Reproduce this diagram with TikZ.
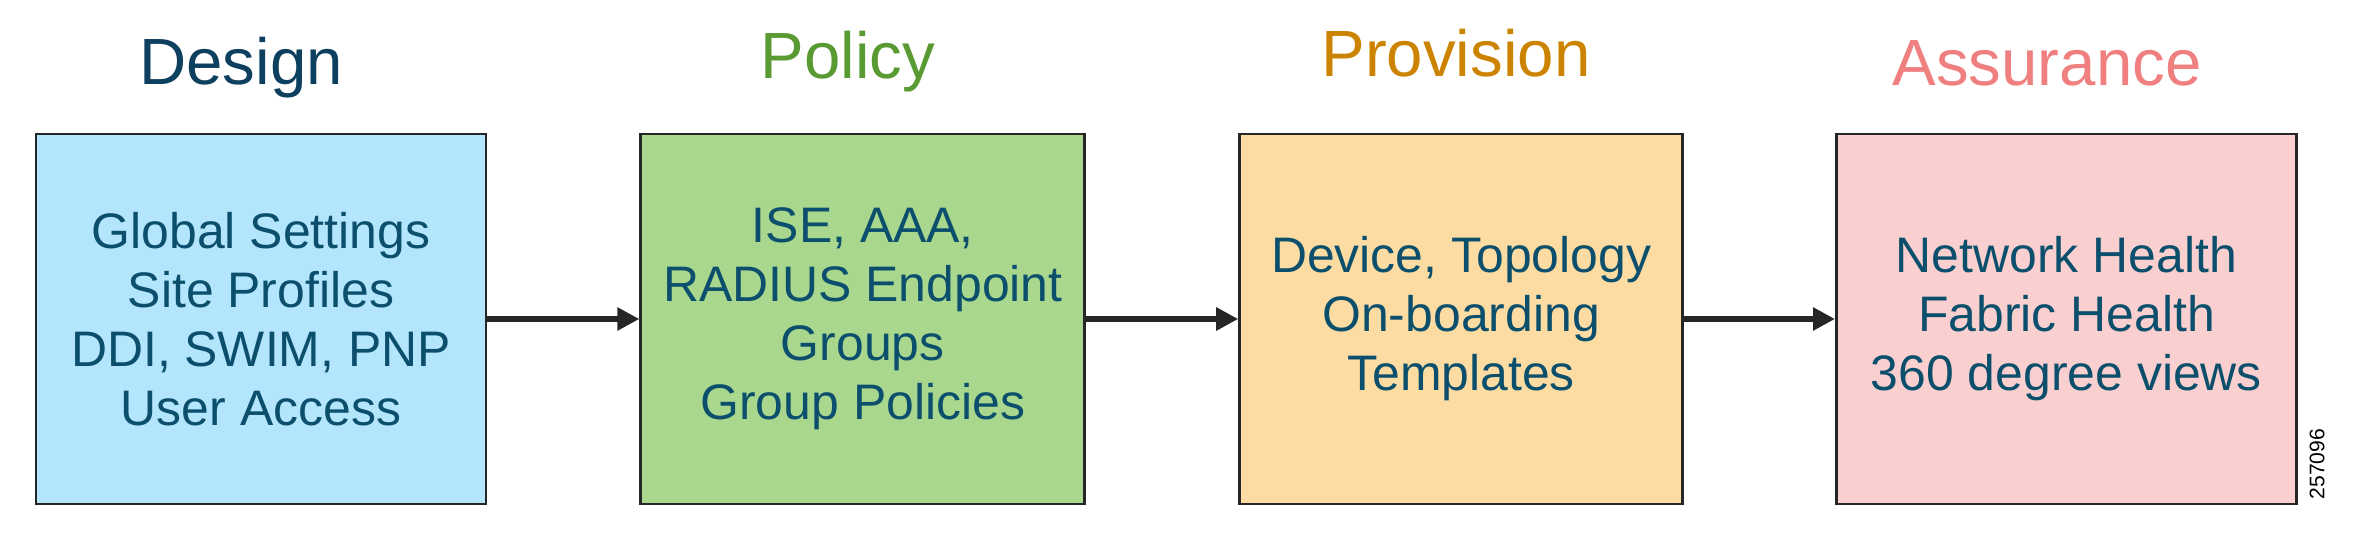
\documentclass[tikz,border=0pt]{standalone}
\usepackage{fontspec}
\setmainfont{Liberation Sans}
\usetikzlibrary{arrows.meta,positioning}

\definecolor{boxtext}{HTML}{0B4F6C}
\definecolor{designcol}{HTML}{0D3F5E}
\definecolor{policycol}{HTML}{5A9A32}
\definecolor{provcol}{HTML}{CC8400}
\definecolor{assurcol}{HTML}{F08080}
\definecolor{designfill}{HTML}{B3E5FC}
\definecolor{policyfill}{HTML}{A9D78E}
\definecolor{provfill}{HTML}{FCDCA3}
\definecolor{assurfill}{HTML}{F9D0CF}

\begin{document}
\begin{tikzpicture}[
    stagebox/.style={draw=black!85, line width=0.8pt, minimum height=3.7cm,
        align=center, text=boxtext, font=\fontsize{14.2}{16.8}\selectfont},
    title/.style={anchor=base, font=\fontsize{18.6}{22}\selectfont},
    flow/.style={-{Triangle[length=2.2mm,width=2.2mm]}, line width=1.6pt, black!85}
]
    \useasboundingbox (0,0) rectangle (23.55,-5.46);

    % Boxes
    \node[stagebox, fill=designfill, minimum width=4.5cm] (design) at (2.61,-3.19)
        {Global Settings\\Site Profiles\\DDI, SWIM, PNP\\User Access};
    \node[stagebox, fill=policyfill, minimum width=4.44cm, right=1.52cm of design] (policy)
        {ISE, AAA,\\RADIUS Endpoint\\Groups\\Group Policies};
    \node[stagebox, fill=provfill, minimum width=4.43cm, right=1.52cm of policy] (provision)
        {Device, Topology\\On-boarding\\Templates};
    \node[stagebox, fill=assurfill, minimum width=4.6cm, right=1.51cm of provision] (assurance)
        {Network Health\\Fabric Health\\360 degree views};

    % Titles
    \node[title, text=designcol] (designtitle) at (2.41,-0.85) {Design};
    \node[title, text=policycol] (policytitle) at (8.48,-0.79) {Policy};
    \node[title, text=provcol] (provtitle) at (14.56,-0.77) {Provision};
    \node[title, text=assurcol] (assurtitle) at (20.47,-0.86) {Assurance};

    % Arrows
    \draw[flow] (design) -- (policy);
    \draw[flow] (policy) -- (provision);
    \draw[flow] (provision) -- (assurance);

    % Figure number
    \node[rotate=90, font=\fontsize{6}{7}\selectfont] (fignum) at (23.17,-4.64) {257096};
\end{tikzpicture}
\end{document}
